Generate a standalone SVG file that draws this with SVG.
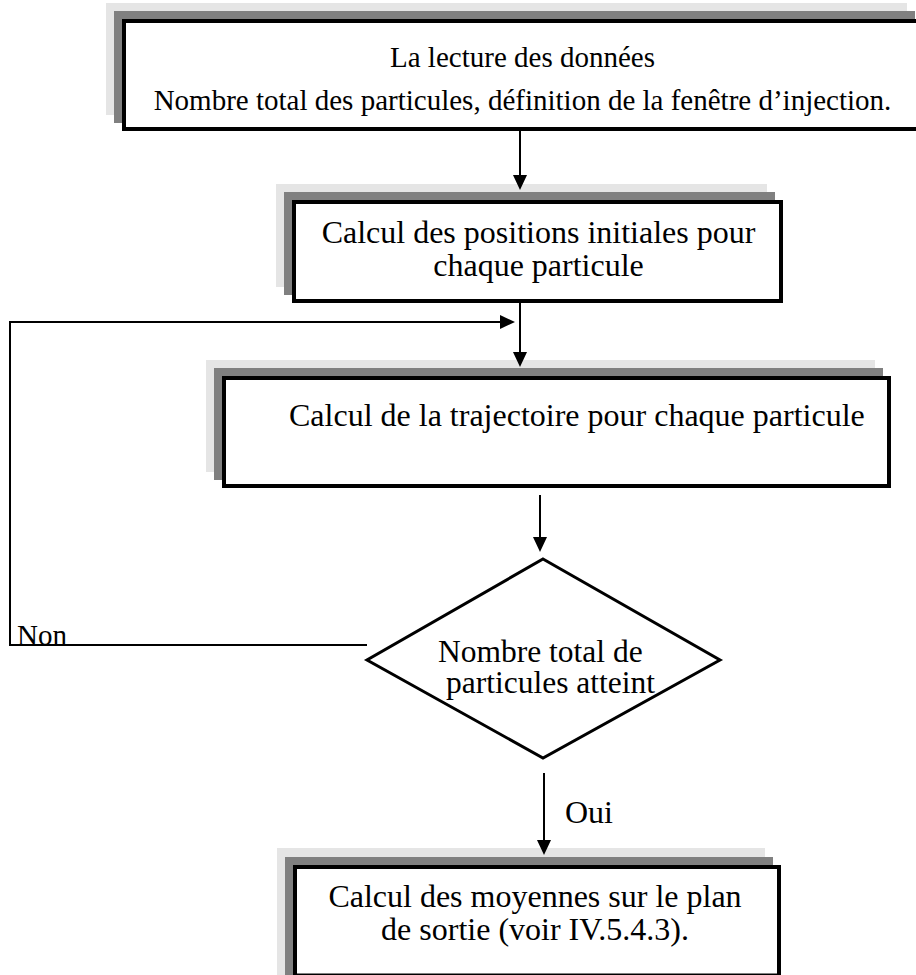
<svg xmlns="http://www.w3.org/2000/svg" width="916" height="975" viewBox="0 0 916 975">
<style>
.sh1{fill:#e5e5e5;}
.sh2{fill:#808080;}
.box{fill:#ffffff;stroke:#000000;stroke-width:4;}
.dia{fill:#ffffff;stroke:#000000;stroke-width:3;stroke-linejoin:miter;}
.t{font-family:"Liberation Serif","Times New Roman",serif;fill:#000000;}
.c{text-anchor:middle;}
.con{fill:none;stroke:#000000;stroke-width:2;}
</style>
<defs>
<marker id="ah" markerUnits="userSpaceOnUse" markerWidth="15" markerHeight="14" refX="5" refY="7" orient="auto">
<path d="M0,0 L15,7 L0,14 Z" fill="#000000"/>
</marker>
</defs>
<rect width="916" height="975" fill="#ffffff"/>

<g id="node-lecture">
<rect class="sh1" x="106" y="3" width="801" height="112"/>
<rect class="sh2" x="114" y="11" width="801" height="112"/>
<rect class="box" x="124" y="21" width="797" height="108"/>
<text class="t c" x="522.5" y="67" font-size="29">La lecture des données</text>
<text class="t c" x="522.5" y="110" font-size="29">Nombre total des particules, définition de la fenêtre d’injection.</text>
</g>

<g id="node-positions">
<rect class="sh1" x="276" y="184" width="491" height="103"/>
<rect class="sh2" x="284" y="192" width="491" height="103"/>
<rect class="box" x="294" y="202" width="487" height="99"/>
<text class="t c" x="538.5" y="243" font-size="32">Calcul des positions initiales pour</text>
<text class="t c" x="538.5" y="276" font-size="32">chaque particule</text>
</g>

<g id="node-trajectoire">
<rect class="sh1" x="206" y="360" width="669" height="112"/>
<rect class="sh2" x="214" y="368" width="669" height="112"/>
<rect class="box" x="224" y="378" width="665" height="108"/>
<text class="t" x="289" y="426" font-size="32">Calcul de la trajectoire pour chaque particule</text>
</g>

<g id="node-test">
<polygon class="dia" points="543,559 720,660 543,758 367,660"/>
<text class="t" x="438" y="662" font-size="31.5">Nombre total de</text>
<text class="t" x="446" y="693" font-size="31.5">particules atteint</text>
</g>

<g id="node-moyennes">
<rect class="sh1" x="277" y="848" width="488" height="130"/>
<rect class="sh2" x="285" y="857" width="488" height="130"/>
<rect class="box" x="295" y="867" width="484" height="108.5"/>
<text class="t c" x="535" y="907" font-size="32">Calcul des moyennes sur le plan</text>
<text class="t c" x="535" y="940" font-size="32">de sortie (voir IV.5.4.3).</text>
</g>

<g id="connectors">
<line class="con" x1="520" y1="131" x2="520" y2="180" marker-end="url(#ah)"/>
<line class="con" x1="520" y1="303" x2="520" y2="357" marker-end="url(#ah)"/>
<polyline class="con" points="367,645 10,645 10,322 505,322" marker-end="url(#ah)"/>
<line class="con" x1="540" y1="495" x2="540" y2="542" marker-end="url(#ah)"/>
<line class="con" x1="544" y1="773" x2="544" y2="845" marker-end="url(#ah)"/>
<text class="t" x="17" y="645" font-size="29" fill="#1a1a1a">Non</text>
<text class="t" x="565" y="823" font-size="32">Oui</text>
</g>
</svg>
